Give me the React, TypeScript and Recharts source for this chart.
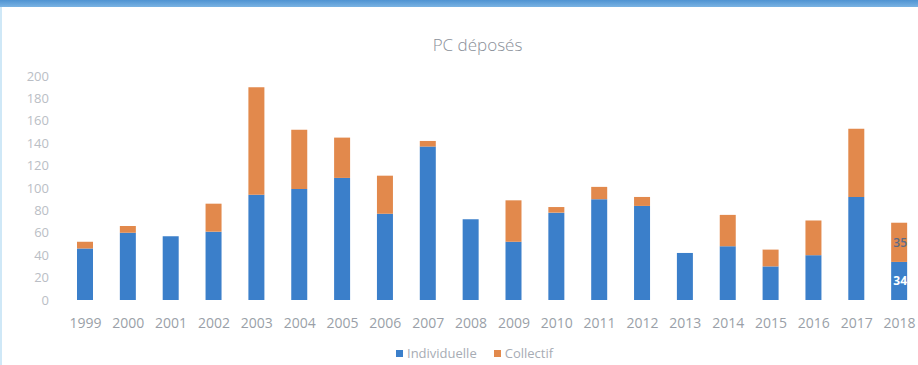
import { BarChart, Bar, XAxis, YAxis, Legend, Rectangle } from 'recharts'

const years = ['1999', '2000', '2001', '2002', '2003', '2004', '2005', '2006', '2007', '2008', '2009', '2010', '2011', '2012', '2013', '2014', '2015', '2016', '2017', '2018']
const individuelle = [46, 60, 57, 61, 94, 99, 109, 77, 137, 72, 52, 78, 90, 84, 42, 48, 30, 40, 92, 34]
const collectif = [6, 6, 0, 25, 96, 53, 36, 34, 5, 0, 37, 5, 11, 8, 0, 28, 15, 31, 61, 35]
const yTicks = [0, 20, 40, 60, 80, 100, 120, 140, 160, 180, 200]
const labelledYear = '2018'

const BLUE = '#3b7fca'
const ORANGE = '#e2894c'

const chartData = years.map((year, i) => ({
  year,
  individuelle: individuelle[i],
  collectif: collectif[i]
}))

// bar shape that also writes the value inside the segment, for the last year only
const makeShape = (key: 'individuelle' | 'collectif', textFill: string, weight: number) => (props: any) => {
  const { x, y, width, height, payload } = props
  const showLabel = payload && payload.year === labelledYear
  return (
    <g>
      <Rectangle {...props} />
      {showLabel && (
        <text
          x={Number(x) + Number(width) / 2 + 1}
          y={Number(y) + Number(height) / 2}
          textAnchor="middle"
          dominantBaseline="central"
          fill={textFill}
          fontSize={12}
          fontWeight={weight}
        >
          {payload[key]}
        </text>
      )}
    </g>
  )
}

const LegendContent = () => (
  <div style={{ display: 'flex', alignItems: 'center', height: 20, paddingLeft: 396, fontSize: 13, color: '#a7acb4' }}>
    <span style={{ display: 'inline-block', width: 7, height: 7, background: BLUE, marginRight: 4 }} />
    <span style={{ marginRight: 17 }}>Individuelle</span>
    <span style={{ display: 'inline-block', width: 7, height: 7, background: ORANGE, marginRight: 4 }} />
    <span>Collectif</span>
  </div>
)

export default function App() {
  return (
    <div style={{ position: 'absolute', left: 0, top: 0, width: 918, height: 365, overflow: 'hidden', background: '#fff', fontFamily: 'Open Sans, sans-serif' }}>
      <div style={{ position: 'absolute', left: 0, top: 0, width: 918, height: 7, background: 'linear-gradient(#4f93d2, #7ab3e3)' }} />
      <div style={{ position: 'absolute', left: 0, top: 7, width: 2, height: 358, background: '#cfe8f7' }} />
      <div style={{ position: 'absolute', left: 0, top: 33, width: 955, textAlign: 'center', fontSize: 17, color: '#8a9099', fontWeight: 300 }}>
        PC déposés
      </div>
      <BarChart
        width={922}
        height={365}
        data={chartData}
        margin={{ top: 76, right: 1, left: 0, bottom: 2 }}
        style={{ position: 'absolute', left: 0, top: 0 }}
      >
        <XAxis
          dataKey="year"
          axisLine={false}
          tickLine={false}
          tickSize={0}
          tickMargin={18}
          height={43}
          interval={0}
          tick={{ fontSize: 14, fill: '#9a9fa8' }}
        />
        <YAxis
          domain={[0, 200]}
          ticks={yTicks}
          axisLine={false}
          tickLine={false}
          tickSize={0}
          tickMargin={15}
          width={64}
          tick={{ fontSize: 13, fill: '#babec5' }}
        />
        <Legend verticalAlign="bottom" height={20} content={<LegendContent />} wrapperStyle={{ left: 0, width: 922 }} />
        <Bar
          dataKey="individuelle"
          name="Individuelle"
          stackId="a"
          fill={BLUE}
          barSize={16}
          isAnimationActive={false}
          shape={makeShape('individuelle', '#ffffff', 700)}
        />
        <Bar
          dataKey="collectif"
          name="Collectif"
          stackId="a"
          fill={ORANGE}
          barSize={16}
          isAnimationActive={false}
          shape={makeShape('collectif', '#5b6b86', 600)}
        />
      </BarChart>
    </div>
  )
}
